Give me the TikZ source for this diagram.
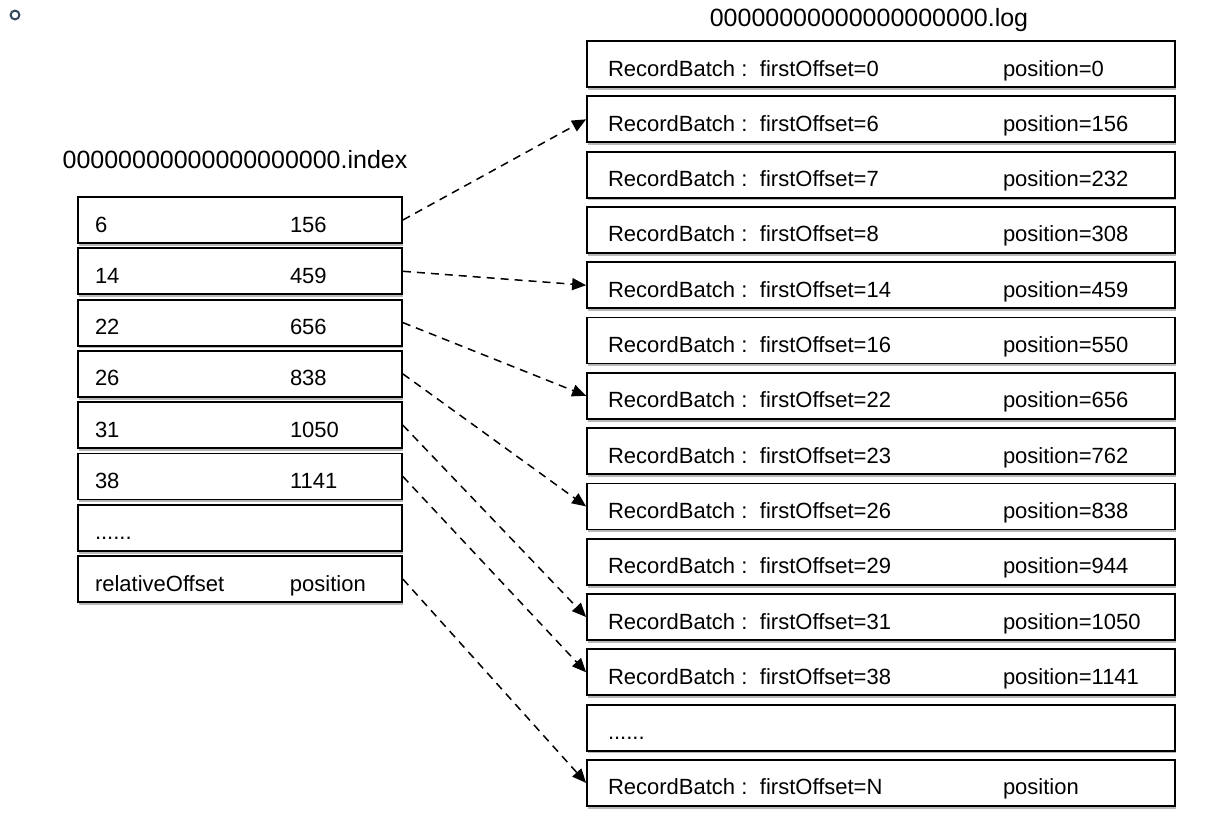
\documentclass[tikz,border=0pt]{standalone}
\usepackage{fontspec}
\setmainfont{Liberation Sans}
\usetikzlibrary{arrows.meta,shadows}
\definecolor{dotSlate}{RGB}{52,73,94}

\newcommand{\logrow}[3]{\makebox[76pt][l]{#1}\makebox[121.5pt][l]{#2}\makebox[75.5pt][l]{#3}}
\newcommand{\idxrow}[2]{\makebox[97.5pt][l]{#1}\makebox[47.5pt][l]{#2}}

\tikzset{
  rowbox/.style={draw, line width=0.9pt, fill=white, minimum height=23pt, inner ysep=0pt,
    text height=14.5pt, text depth=2.5pt,
    font=\fontsize{11}{13}\selectfont,
    drop shadow={shadow xshift=0.3pt, shadow yshift=-1.4pt, fill=black, opacity=0.28}},
  logbox/.style={rowbox, minimum width=294pt, inner xsep=10.5pt},
  idxbox/.style={rowbox, minimum width=162pt, inner xsep=8.5pt},
  ptr/.style={dash pattern=on 4pt off 3pt, line width=0.75pt, -{Triangle[length=7pt,width=6pt]}},
  filetitle/.style={font=\fontsize{12.5}{15}\selectfont}
}

\begin{document}
\begin{tikzpicture}[x=0.5pt,y=-0.5pt]
\useasboundingbox (0,0) rectangle (1211,820);

\draw[dotSlate, line width=1pt] (15,15) circle (2.2pt);

% index file
\node[filetitle] (idxtitle) at (235,160) {00000000000000000000.index};
\foreach \rel/\pos [count=\k] in {6/156,14/459,22/656,26/838,31/1050,38/1141}
  \node[idxbox] (i\k) at (240,{168.7+51.3*\k}) {\idxrow{\rel}{\pos}};
\node[idxbox] (i7) at (240,527.8) {\idxrow{......}{}};
\node[idxbox] (i8) at (240,579.1) {\idxrow{relativeOffset}{position}};

% log file
\node[filetitle] (logtitle) at (869,20) {00000000000000000000.log};
\foreach \off/\pos [count=\k] in {0/0,6/156,7/232,8/308,14/459,16/550,22/656,23/762,26/838,29/944,31/1050,38/1141}
  \node[logbox] (l\k) at (881,{8.7+55.3*\k}) {\logrow{RecordBatch :}{firstOffset=\off}{position=\pos}};
\node[logbox] (l13) at (881,727.6) {\logrow{......}{}{}};
\node[logbox] (l14) at (881,782.9) {\logrow{RecordBatch :}{firstOffset=N}{position}};

% index entries point into the log
\foreach \a/\b in {1/2,2/5,3/7,4/9,5/11,6/12,8/14}
  \draw[ptr] (i\a.east) -- (l\b.west);
\end{tikzpicture}
\end{document}
